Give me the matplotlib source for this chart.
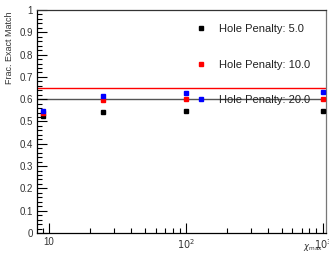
import numpy as np
import matplotlib.pyplot as plt
from matplotlib.ticker import MultipleLocator, FixedLocator, NullFormatter

plt.rcParams['font.family'] = ['Liberation Sans', 'DejaVu Sans']

chi_max = [9, 25, 100, 1000]
penalties = ["5.0", "10.0", "20.0"]
frac_p5 = [0.525, 0.544, 0.547, 0.547]
frac_p10 = [0.540, 0.596, 0.602, 0.600]
frac_p20 = [0.548, 0.614, 0.629, 0.632]
ref_red = 0.649
ref_gray = 0.601

colors = ['black', 'red', 'blue']

fig = plt.figure(figsize=(3.29, 2.54), dpi=100)
ax = fig.add_axes([0.1125, 0.0827, 0.8785, 0.878])

ax.axhline(ref_red, color='red', lw=1.0, zorder=1)
ax.axhline(ref_gray, color='#555555', lw=1.0, zorder=1)

for vals, c, p in zip([frac_p5, frac_p10, frac_p20], colors, penalties):
    ax.plot(chi_max, vals, ls='none', marker='s', ms=3.5, color=c,
            mec=c, label='Hole Penalty: ' + p, zorder=3)

ax.set_xscale('log')
ax.set_xlim(8.17, 1057)
ax.set_ylim(0, 1)

ax.yaxis.set_major_locator(MultipleLocator(0.1))
ax.yaxis.set_minor_locator(MultipleLocator(0.02))
ax.set_yticks(np.arange(0, 1.01, 0.1))
ax.set_yticklabels(['0', '0.1', '0.2', '0.3', '0.4', '0.5', '0.6', '0.7', '0.8', '0.9', '1'])
ax.set_xticks([10, 100, 1000])
ax.set_xticklabels(['10', '$10^2$', '$10^3$'])
ax.xaxis.set_minor_locator(FixedLocator([v * d for d in [1, 10, 100] for v in range(2, 10)]))
ax.xaxis.set_minor_formatter(NullFormatter())

ax.tick_params(which='both', direction='in', labelsize=7, labelcolor='#333333',
               top=False, right=False, width=0.8)
ax.tick_params(which='major', length=7, pad=3)
ax.tick_params(which='minor', length=3.5)
for s in ax.spines.values():
    s.set_linewidth(0.9)
ax.spines['right'].set_color('#777777')
ax.spines['top'].set_color('#333333')

ax.set_ylabel('Frac. Exact Match', fontsize=6.5, color='#333333', labelpad=2)
ax.yaxis.set_label_coords(-0.08, 0.83)
ax.text(0.955, -0.04, r'$\chi_{\mathrm{max}}$', transform=ax.transAxes,
        fontsize=6, color='#333333', ha='center', va='top')

leg = ax.legend(loc='upper left', bbox_to_anchor=(0.548, 0.937), frameon=False,
                fontsize=8, handlelength=1.0, handletextpad=1.1, labelspacing=2.3,
                borderpad=0, borderaxespad=0, markerscale=0.8)
leg.set_zorder(5)
for t in leg.get_texts():
    t.set_color('#222222')

fig.savefig('out.png', dpi=100)
